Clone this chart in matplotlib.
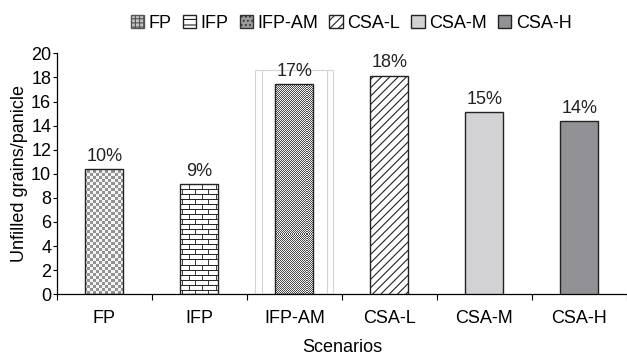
import numpy as np
import matplotlib
matplotlib.use("Agg")
from matplotlib import pyplot as plt
from matplotlib.patches import Patch, Rectangle
from matplotlib.transforms import IdentityTransform

plt.rcParams['font.family'] = ['Liberation Sans Narrow', 'Liberation Sans', 'DejaVu Sans']
plt.rcParams['hatch.linewidth'] = 0.8

scenarios = ['FP', 'IFP', 'IFP-AM', 'CSA-L', 'CSA-M', 'CSA-H']
unfilled = [10.4, 9.15, 17.45, 18.15, 15.1, 14.35]
pct_labels = ['10%', '9%', '17%', '18%', '15%', '14%']
yticks = list(range(0, 21, 2))

W, H, DPI = 6.27, 3.58, 100
LEFT, RIGHT, BOTTOM, TOP = 0.0904, 1.0, 0.178, 0.851
FS = 13


def texture(kind, w, h):
    # pixel textures used to fill the patterned bars
    yy, xx = np.indices((h, w))
    img = np.ones((h, w))
    if kind == 'checker':
        img = np.where(((xx // 3) + (yy // 3)) % 2 == 0, 0.58, 0.96)
    elif kind == 'brick':
        row = yy // 5
        img[yy % 5 == 0] = 0.15
        off = np.where(row % 2 == 0, 0, 6)
        img[((xx + off) % 13 == 0) & (yy % 5 != 0)] = 0.25
    elif kind == 'dots':
        img = np.where((xx + yy) % 2 == 0, 0.3, 0.95)
    return img


fig = plt.figure(figsize=(W, H), dpi=DPI)
ax = fig.add_axes([LEFT, BOTTOM, RIGHT - LEFT, TOP - BOTTOM])

x = np.arange(len(scenarios))
face = ['none', 'none', 'none', 'white', '#d2d2d4', '#929296']
bars = ax.bar(x, unfilled, width=0.4, color=face, edgecolor='#222222',
              linewidth=1.0, zorder=3)
bars[3].set_hatch('////')

# textured fills clipped to the bars, one image pixel per screen pixel
fw, fh = int(round(W * DPI)), int(round(H * DPI))
for i, kind in [(0, 'checker'), (1, 'brick'), (2, 'dots')]:
    im = ax.imshow(texture(kind, fw, fh), cmap='gray', vmin=0, vmax=1,
                   extent=[0, fw, 0, fh], transform=IdentityTransform(),
                   interpolation='nearest', aspect='auto', zorder=2.5)
    im.set_clip_path(bars[i])

# light selection frame around IFP-AM
for half in (0.41, 0.34):
    ax.add_patch(Rectangle((x[2] - half, 0), 2 * half, 18.6, fill=False,
                           edgecolor='#d4d4d4', linewidth=0.8, zorder=1))

for xi, v, lab in zip(x, unfilled, pct_labels):
    ax.annotate(lab, (xi, v), xytext=(0, 3), textcoords='offset points',
                ha='center', va='bottom', fontsize=FS, color='#222222')

ax.set_xlim(-0.5, 5.386)
ax.set_ylim(0, 20)
ax.set_yticks(yticks)
ax.set_xticks(x)
ax.set_xticklabels(scenarios, fontsize=FS)
ax.tick_params(axis='x', length=0, pad=11)
ax.set_xticks(np.arange(-0.5, 6, 1), minor=True)
ax.tick_params(axis='x', which='minor', length=4, width=0.8, direction='out')
ax.tick_params(axis='y', length=3, width=0.8, labelsize=FS, pad=1)
for s in ['top', 'right']:
    ax.spines[s].set_visible(False)
for s in ['left', 'bottom']:
    ax.spines[s].set_linewidth(0.9)
ax.set_ylabel('Unfilled grains/panicle', fontsize=FS, labelpad=2)
ax.set_xlabel('Scenarios', fontsize=FS, labelpad=9)

handles = [
    Patch(facecolor='#c4c4c4', edgecolor='#555555', hatch='++++', label='FP'),
    Patch(facecolor='white', edgecolor='#222222', hatch='---', label='IFP'),
    Patch(facecolor='#9a9a9a', edgecolor='#333333', hatch='....', label='IFP-AM'),
    Patch(facecolor='white', edgecolor='#222222', hatch='////', label='CSA-L'),
    Patch(facecolor='#d2d2d4', edgecolor='#222222', label='CSA-M'),
    Patch(facecolor='#929296', edgecolor='#222222', label='CSA-H'),
]
fig.legend(handles=handles, loc='center', bbox_to_anchor=(0.56, 0.935),
           ncol=6, frameon=False, fontsize=FS, handlelength=0.75,
           handleheight=0.75, handletextpad=0.25, columnspacing=0.6)

fig.savefig('out.png', dpi=DPI)
